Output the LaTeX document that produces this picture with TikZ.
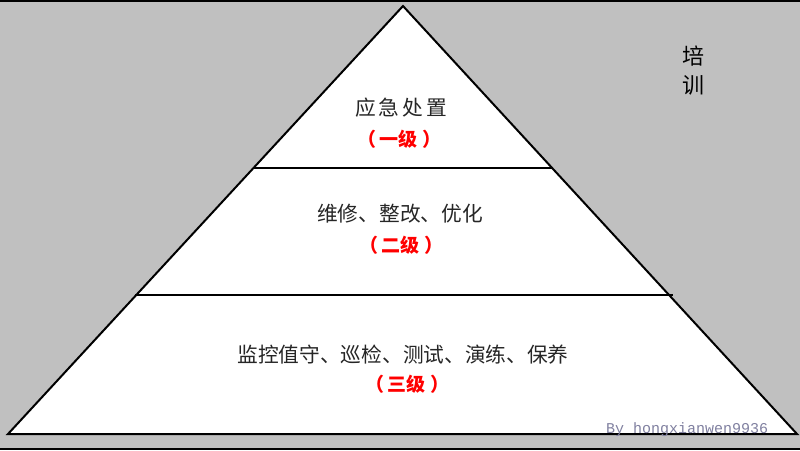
\documentclass[tikz,border=0pt]{standalone}
\usepackage{fontspec}
\newfontfamily\cjk{Noto Sans CJK SC}
\newfontfamily\wmfont{Liberation Mono}
\definecolor{bggray}{HTML}{C0C0C0}
\definecolor{wmcol}{HTML}{8080A0}
\newcommand{\lvlgap}{\hspace{4pt}}
\newcommand{\chgap}{\hspace{3pt}}
\begin{document}
\begin{tikzpicture}[x=1pt,y=-1pt,
  edge/.style={draw=black,line width=2pt},
  maintext/.style={font=\cjk\fontsize{20.7}{24}\selectfont,text=black!85,inner sep=0pt},
  leveltext/.style={font=\cjk\bfseries\fontsize{19}{22}\selectfont,text=red,inner sep=0pt},
  sidetext/.style={font=\cjk\fontsize{22}{29}\selectfont,align=center,inner sep=0pt},
  wmtext/.style={font=\wmfont\fontsize{15}{18}\selectfont,text=wmcol,inner sep=0pt,anchor=base west}]
\fill[bggray] (0,0) rectangle (800,450);
\useasboundingbox (0,0) rectangle (800,450);
\coordinate (tl) at (0,1);
\coordinate (tr) at (800,1);
\coordinate (bl) at (0,448.5);
\coordinate (br) at (800,448.5);
\draw[line width=2pt] (tl) -- (tr);
\draw[line width=2pt] (bl) -- (br);
\coordinate (apex) at (403,6);
\coordinate (baseL) at (8,434);
\coordinate (baseR) at (797,434);
\filldraw[fill=white,edge,line join=miter] (apex) -- (baseR) -- (baseL) -- cycle;
\coordinate (l1a) at (253,168);
\coordinate (l1b) at (552,168);
\coordinate (l2a) at (135,295);
\coordinate (l2b) at (673,295);
\draw[edge] (l1a) -- (l1b);
\draw[edge] (l2a) -- (l2b);
\node[maintext] (t1) at (401,108) {应\chgap 急\chgap 处\chgap 置};
\node[leveltext] (s1) at (399,139) {（\lvlgap 一级\lvlgap ）};
\node[maintext] (t2) at (400,214) {维修、整改、优化};
\node[leveltext] (s2) at (401,245) {（\lvlgap 二级\lvlgap ）};
\node[maintext] (t3) at (403,355) {监控值守、巡检、测试、演练、保养};
\node[leveltext] (s3) at (407,384) {（\lvlgap 三级\lvlgap ）};
\node[sidetext] (side) at (693,71) {培\\训};
\node[wmtext] (wm) at (606,433) {By hongxianwen9936};
\end{tikzpicture}
\end{document}
